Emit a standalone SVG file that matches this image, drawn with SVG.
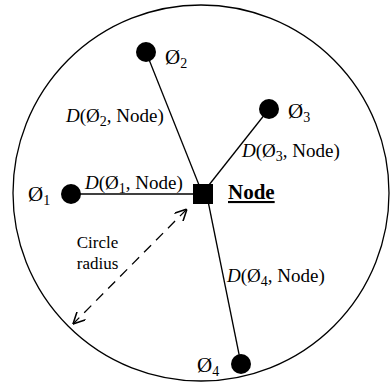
<svg xmlns="http://www.w3.org/2000/svg" width="390" height="383" viewBox="0 0 390 383">
<defs>
<style>
text{font-family:"Liberation Serif","Times New Roman",serif;fill:#000;}
.lbl{font-size:19px;}
.o{font-size:21px;}
.sub{font-size:14px;}
.it{font-style:italic;}
.edge{stroke:#000;stroke-width:1.3;fill:none;}
.dot{fill:#000;}
.cr{font-size:17px;}
</style>
<marker id="arr" viewBox="0 0 10 10" refX="10" refY="5" markerWidth="12" markerHeight="12" markerUnits="userSpaceOnUse" orient="auto-start-reverse">
<path d="M0,0 L10,5 L0,10" fill="none" stroke="#000" stroke-width="1.3"/>
</marker>
</defs>
<rect width="390" height="383" fill="#fff"/>
<circle cx="201" cy="193" r="188" fill="none" stroke="#000" stroke-width="1.3"/>
<g id="connectors">
<line class="edge" x1="71" y1="194" x2="203" y2="194"/>
<line class="edge" x1="146" y1="52" x2="201" y2="190"/>
<line class="edge" x1="269" y1="109" x2="205" y2="190"/>
<line class="edge" x1="207" y1="196" x2="241" y2="364"/>
<line class="edge" x1="187" y1="209" x2="73" y2="324" stroke-dasharray="10,7" marker-start="url(#arr)" marker-end="url(#arr)"/>
<text class="lbl" x="85" y="189"><tspan class="it">D</tspan>(Ø<tspan class="sub" dy="4">1</tspan><tspan dy="-4">, Node)</tspan></text>
<text class="lbl" x="66" y="122"><tspan class="it">D</tspan>(Ø<tspan class="sub" dy="4">2</tspan><tspan dy="-4">, Node)</tspan></text>
<text class="lbl" x="242" y="157"><tspan class="it">D</tspan>(Ø<tspan class="sub" dy="4">3</tspan><tspan dy="-4">, Node)</tspan></text>
<text class="lbl" x="227" y="282"><tspan class="it">D</tspan>(Ø<tspan class="sub" dy="4">4</tspan><tspan dy="-4">, Node)</tspan></text>
<text class="cr" x="97.5" y="248" text-anchor="middle">Circle</text>
<text class="cr" x="97.5" y="269" text-anchor="middle">radius</text>
</g>
<g id="n1">
<circle class="dot" cx="71" cy="194" r="10"/>
<text class="o" x="28" y="201">Ø<tspan class="sub" dy="4">1</tspan></text>
</g>
<g id="n2">
<circle class="dot" cx="146" cy="52" r="10"/>
<text class="o" x="165" y="64">Ø<tspan class="sub" dy="4">2</tspan></text>
</g>
<g id="n3">
<circle class="dot" cx="269" cy="109" r="10"/>
<text class="o" x="288" y="118">Ø<tspan class="sub" dy="4">3</tspan></text>
</g>
<g id="n4">
<circle class="dot" cx="241" cy="364" r="10"/>
<text class="o" x="197" y="372">Ø<tspan class="sub" dy="4">4</tspan></text>
</g>
<g id="node">
<rect x="193" y="184" width="20" height="20" fill="#000"/>
<text x="228" y="199" style="font-size:21px;font-weight:bold;text-decoration:underline;">Node</text>
</g>
</svg>
